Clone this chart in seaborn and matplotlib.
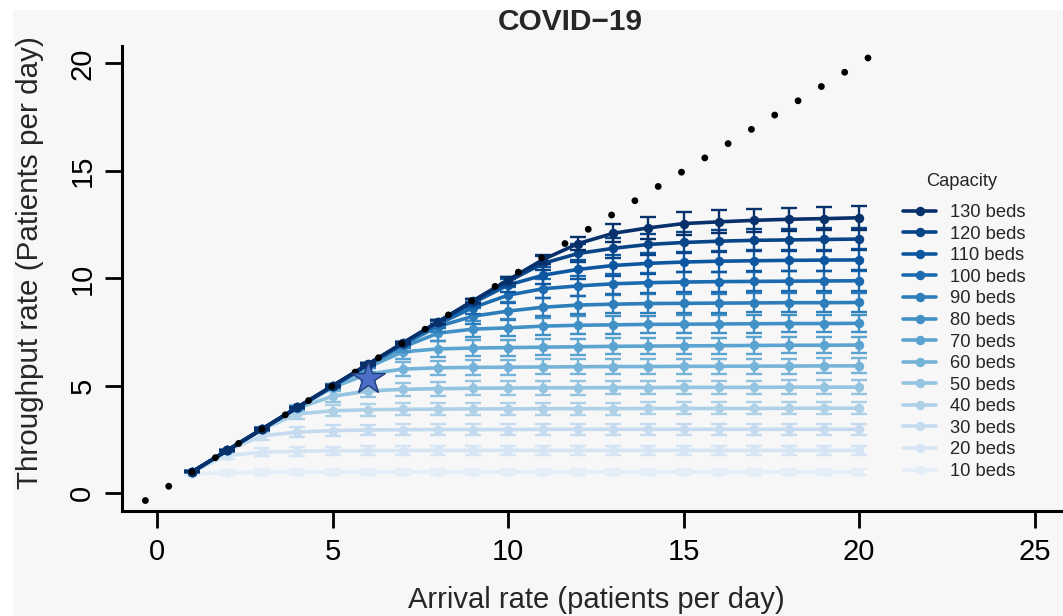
import numpy as np
import pandas as pd
import matplotlib
matplotlib.use("Agg")
import matplotlib.pyplot as plt
from matplotlib.patches import Rectangle
import seaborn as sns

# ---------------- data ----------------
arrival = list(range(1, 21))
capacities = [10, 20, 30, 40, 50, 60, 70, 80, 90, 100, 110, 120, 130]

thr_10 = [0.90, 0.97, 0.98, 0.99, 0.99, 0.99, 1.00, 1.00, 1.00, 1.00, 1.00, 1.00, 1.00, 1.00, 1.00, 1.00, 1.00, 1.00, 1.00, 1.00]
thr_20 = [0.99, 1.76, 1.92, 1.96, 1.98, 1.99, 1.99, 2.00, 2.00, 2.00, 2.00, 2.00, 2.00, 2.00, 2.00, 2.00, 2.00, 2.00, 2.00, 2.00]
thr_30 = [1.00, 1.98, 2.68, 2.85, 2.92, 2.95, 2.96, 2.97, 2.97, 2.97, 2.98, 2.98, 2.98, 2.98, 2.98, 2.98, 2.98, 2.98, 2.98, 2.98]
thr_40 = [1.00, 1.99, 2.97, 3.70, 3.84, 3.89, 3.91, 3.92, 3.93, 3.93, 3.94, 3.94, 3.94, 3.95, 3.95, 3.95, 3.95, 3.96, 3.96, 3.96]
thr_50 = [1.00, 2.00, 2.99, 3.96, 4.52, 4.76, 4.84, 4.87, 4.89, 4.90, 4.91, 4.91, 4.92, 4.92, 4.93, 4.93, 4.93, 4.94, 4.94, 4.94]
thr_60 = [1.00, 2.00, 3.00, 3.98, 4.92, 5.55, 5.78, 5.84, 5.86, 5.87, 5.88, 5.89, 5.90, 5.90, 5.91, 5.91, 5.92, 5.92, 5.93, 5.93]
thr_70 = [1.00, 2.00, 3.00, 3.99, 4.97, 5.86, 6.58, 6.72, 6.76, 6.78, 6.80, 6.82, 6.84, 6.85, 6.86, 6.87, 6.88, 6.89, 6.89, 6.90]
thr_80 = [1.00, 2.00, 3.00, 3.99, 4.98, 5.94, 6.80, 7.45, 7.64, 7.70, 7.78, 7.82, 7.84, 7.86, 7.87, 7.88, 7.89, 7.90, 7.90, 7.91]
thr_90 = [1.00, 2.00, 3.00, 4.00, 4.99, 5.97, 6.91, 7.76, 8.24, 8.48, 8.66, 8.76, 8.80, 8.83, 8.84, 8.85, 8.86, 8.87, 8.87, 8.88]
thr_100 = [1.00, 2.00, 3.00, 4.00, 4.99, 5.98, 6.95, 7.87, 8.64, 9.22, 9.52, 9.65, 9.75, 9.80, 9.83, 9.85, 9.86, 9.87, 9.88, 9.89]
thr_110 = [1.00, 2.00, 3.00, 4.00, 5.00, 5.99, 6.98, 7.95, 8.86, 9.69, 10.15, 10.42, 10.60, 10.70, 10.76, 10.80, 10.82, 10.84, 10.85, 10.86]
thr_120 = [1.00, 2.00, 3.00, 4.00, 5.00, 6.00, 6.99, 7.97, 8.94, 9.86, 10.70, 11.16, 11.40, 11.58, 11.67, 11.73, 11.77, 11.79, 11.81, 11.83]
thr_130 = [1.00, 2.00, 3.00, 4.00, 5.00, 6.00, 6.99, 7.98, 8.96, 9.93, 10.88, 11.62, 12.10, 12.35, 12.55, 12.63, 12.70, 12.75, 12.78, 12.82]

err_10 = [0.10, 0.13, 0.14, 0.14, 0.14, 0.14, 0.14, 0.14, 0.14, 0.14, 0.14, 0.14, 0.14, 0.14, 0.14, 0.14, 0.14, 0.14, 0.14, 0.14]
err_20 = [0.05, 0.16, 0.19, 0.20, 0.20, 0.20, 0.20, 0.20, 0.20, 0.20, 0.20, 0.20, 0.20, 0.20, 0.20, 0.20, 0.20, 0.20, 0.20, 0.20]
err_30 = [0.03, 0.08, 0.20, 0.23, 0.24, 0.25, 0.25, 0.25, 0.25, 0.25, 0.25, 0.25, 0.25, 0.25, 0.25, 0.25, 0.25, 0.25, 0.25, 0.25]
err_40 = [0.02, 0.04, 0.10, 0.22, 0.26, 0.27, 0.28, 0.28, 0.28, 0.28, 0.28, 0.28, 0.28, 0.28, 0.28, 0.28, 0.28, 0.28, 0.28, 0.28]
err_50 = [0.02, 0.03, 0.06, 0.14, 0.26, 0.30, 0.31, 0.32, 0.32, 0.32, 0.32, 0.32, 0.32, 0.32, 0.32, 0.32, 0.32, 0.32, 0.32, 0.32]
err_60 = [0.02, 0.03, 0.04, 0.08, 0.18, 0.30, 0.33, 0.34, 0.35, 0.35, 0.35, 0.35, 0.35, 0.35, 0.35, 0.35, 0.35, 0.35, 0.35, 0.35]
err_70 = [0.02, 0.03, 0.04, 0.05, 0.10, 0.22, 0.32, 0.36, 0.37, 0.37, 0.38, 0.38, 0.38, 0.38, 0.38, 0.38, 0.38, 0.38, 0.38, 0.38]
err_80 = [0.02, 0.02, 0.03, 0.04, 0.06, 0.12, 0.24, 0.34, 0.38, 0.40, 0.40, 0.41, 0.41, 0.41, 0.41, 0.41, 0.41, 0.41, 0.41, 0.41]
err_90 = [0.02, 0.02, 0.03, 0.04, 0.05, 0.08, 0.14, 0.26, 0.36, 0.41, 0.42, 0.43, 0.43, 0.43, 0.44, 0.44, 0.44, 0.44, 0.44, 0.44]
err_100 = [0.02, 0.02, 0.03, 0.03, 0.04, 0.06, 0.09, 0.16, 0.28, 0.38, 0.43, 0.45, 0.46, 0.46, 0.46, 0.46, 0.46, 0.47, 0.47, 0.47]
err_110 = [0.02, 0.02, 0.03, 0.03, 0.04, 0.05, 0.07, 0.10, 0.18, 0.30, 0.40, 0.45, 0.47, 0.48, 0.48, 0.48, 0.49, 0.49, 0.49, 0.49]
err_120 = [0.02, 0.02, 0.03, 0.03, 0.04, 0.05, 0.06, 0.08, 0.12, 0.20, 0.32, 0.42, 0.47, 0.50, 0.50, 0.51, 0.51, 0.52, 0.52, 0.52]
err_130 = [0.02, 0.02, 0.03, 0.03, 0.04, 0.05, 0.06, 0.08, 0.10, 0.14, 0.22, 0.32, 0.43, 0.50, 0.52, 0.53, 0.54, 0.54, 0.55, 0.55]

throughputs = [thr_10, thr_20, thr_30, thr_40, thr_50, thr_60, thr_70, thr_80, thr_90,
               thr_100, thr_110, thr_120, thr_130]
errors = [err_10, err_20, err_30, err_40, err_50, err_60, err_70, err_80, err_90,
          err_100, err_110, err_120, err_130]

ref_line = [-1/3, 61/3]          # identity reference (dotted)
star_x = [6]
star_y = [5.35]

x_ticks = [0, 5, 10, 15, 20, 25]
y_ticks = [0, 5, 10, 15, 20]

rows = []
for cap, thr, err in zip(capacities, throughputs, errors):
    for a, t, e in zip(arrival, thr, err):
        rows.append({"capacity": cap, "arrival": a, "throughput": t, "err": e})
df = pd.DataFrame(rows)

# ---------------- style ----------------
sns.set_theme(style="ticks")
plt.rcParams["font.family"] = ["Liberation Sans", "DejaVu Sans"]

W, H = 1063, 616
fig = plt.figure(figsize=(W / 100, H / 100), dpi=100, facecolor="white")
fig.patches.append(Rectangle((13 / W, 0), 1, 606 / H, transform=fig.transFigure,
                             facecolor="#f7f7f7", edgecolor="none", zorder=-10))
ax = fig.add_axes([122 / W, (H - 511) / H, (W - 122) / W, (511 - 46) / H])
ax.set_facecolor("none")

cmap = sns.color_palette("Blues", as_cmap=True)
colors = [cmap(v) for v in np.linspace(0.10, 1.0, len(capacities))]

for i, (cap, col) in enumerate(zip(capacities, colors)):
    sub = df[df["capacity"] == cap]
    ax.errorbar(sub["arrival"], sub["throughput"], yerr=sub["err"], fmt="none",
                ecolor=col, elinewidth=1.7, capsize=5.5, capthick=1.7, zorder=2 + i)
    sns.lineplot(data=sub, x="arrival", y="throughput", color=col, lw=2.6,
                 marker="o", markersize=6.8, markeredgewidth=0, ax=ax,
                 label=f"{cap} beds", zorder=2.5 + i)

# dotted identity line
ax.plot(ref_line, ref_line, color="black", lw=5, linestyle=(0, (0.001, 3.935)),
        dash_capstyle="round", zorder=30)

ax.plot(star_x, star_y, marker="*", ms=25, mfc="#4b6fc6", mec="#1f3a78", mew=1.0,
        ls="none", zorder=40)

ax.set_xlim(-1.0, 25.81)
ax.set_ylim(-0.82, 20.81)
ax.set_xticks(x_ticks)
ax.set_yticks(y_ticks)
ax.set_xticklabels([str(v) for v in x_ticks])
ax.set_yticklabels([str(v) for v in y_ticks], rotation=90, va="center")
ax.tick_params(axis="both", direction="out", length=12.5, width=2.0,
               labelsize=21, colors="black")
ax.tick_params(axis="x", pad=7)
ax.tick_params(axis="y", pad=6)
for s in ["top", "right"]:
    ax.spines[s].set_visible(False)
for s in ["left", "bottom"]:
    ax.spines[s].set_linewidth(2.2)
    ax.spines[s].set_color("black")
ax.set_xlabel("")
ax.set_ylabel("")

fig.text(596 / W, 1 - 600 / H, "Arrival rate (patients per day)", fontsize=21,
         ha="center", va="center")
fig.text(30 / W, 1 - 263 / H, "Throughput rate (Patients per day)", fontsize=21.3,
         ha="center", va="center", rotation=90)
fig.text(570 / W, 1 - 22 / H, "COVID\u221219", fontsize=21.5, fontweight="bold",
         ha="center", va="center")
fig.text(962 / W, 1 - 182 / H, "Capacity", fontsize=13.2, ha="center", va="center")

handles, labels = ax.get_legend_handles_labels()
leg = ax.legend(handles[::-1], labels[::-1], frameon=False,
                loc="upper left", bbox_to_anchor=(903 / W, 1 - 204 / H),
                bbox_transform=fig.transFigure, fontsize=13.2,
                labelspacing=0.25, handlelength=1.8, handletextpad=0.75,
                borderpad=0, borderaxespad=0)

fig.savefig("out.png", dpi=100, facecolor=fig.get_facecolor())
